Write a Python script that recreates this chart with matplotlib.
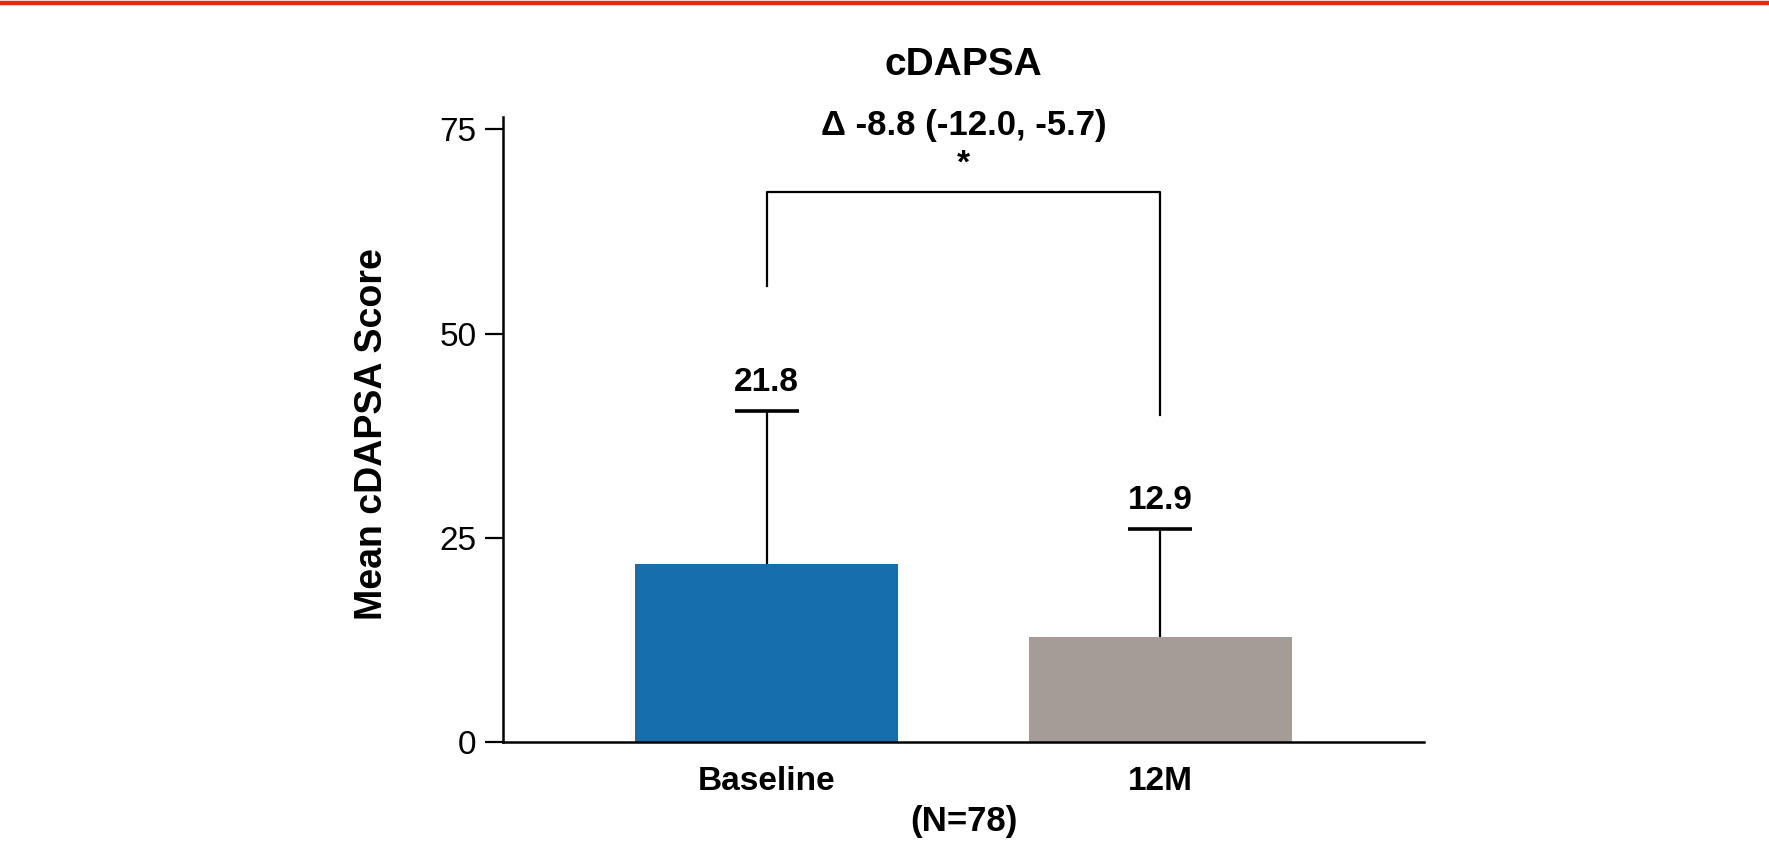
import matplotlib.pyplot as plt
from matplotlib.lines import Line2D

plt.rcParams['font.family'] = ['Liberation Sans', 'DejaVu Sans']

# Data
categories = ['Baseline', '12M']
means = [21.8, 12.9]
sds = [18.7, 13.2]
bar_colors = ['#176EAC', '#A69C97']
bracket_start = [55.8, 40.0]
bracket_top = 67.3
title = 'cDAPSA'
delta_text = '\u0394 -8.8 (-12.0, -5.7)'
n_text = '(N=78)'
y_ticks = [0, 25, 50, 75]

W, H = 1769, 844
fig = plt.figure(figsize=(W / 100, H / 100), dpi=100)
ax = fig.add_axes([503 / W, 1 - 742.4 / H, (1424 - 503) / W, (742.4 - 117) / H])

x = list(range(len(categories)))
ax.bar(x, means, width=0.668, color=bar_colors, zorder=2)

# upper-only error bars with caps
cap = 0.081
for xi, m, s in zip(x, means, sds):
    ax.vlines(xi, m, m + s, color='black', lw=1.6, zorder=3)
    ax.hlines(m + s, xi - cap, xi + cap, color='black', lw=2.6, zorder=3)
    ax.text(xi, m + s + 2.45, f'{m:.1f}', ha='center', va='baseline',
            fontsize=24, fontweight='bold', clip_on=False)

# significance bracket
ax.plot([x[0], x[0], x[1], x[1]],
        [bracket_start[0], bracket_top, bracket_top, bracket_start[1]],
        color='black', lw=1.6, clip_on=False)
mid = (x[0] + x[1]) / 2
ax.text(mid, 72.6, '*', ha='center', va='top', fontsize=24, fontweight='bold', clip_on=False)
ax.text(mid, 74.3, delta_text, ha='center', va='baseline', fontsize=25,
        fontweight='bold', clip_on=False)
ax.text(mid, 81.6, title, ha='center', va='baseline', fontsize=28,
        fontweight='bold', clip_on=False)
ax.text(mid, -7.7, n_text, ha='center', va='top', fontsize=25,
        fontweight='bold', clip_on=False)

ax.set_xlim(-0.67, 1.67)
ax.set_ylim(0, 76.5)
ax.set_yticks(y_ticks)
ax.set_xticks(x)
ax.set_xticklabels(categories, fontsize=24, fontweight='bold')
ax.tick_params(axis='x', length=0, pad=17)
ax.tick_params(axis='y', length=13, width=1.6, pad=6, labelsize=24)
for side in ['top', 'right']:
    ax.spines[side].set_visible(False)
for side in ['left', 'bottom']:
    ax.spines[side].set_linewidth(1.8)

fig.text(372 / W, 1 - 434 / H, 'Mean cDAPSA Score', rotation=90, ha='center',
         va='center', fontsize=27, fontweight='bold')

# red rule along the top edge
fig.add_artist(Line2D([0, 1], [1 - 2.7 / H, 1 - 2.7 / H], color='#E8290F', lw=3.2))

fig.savefig('out.png', dpi=100)
